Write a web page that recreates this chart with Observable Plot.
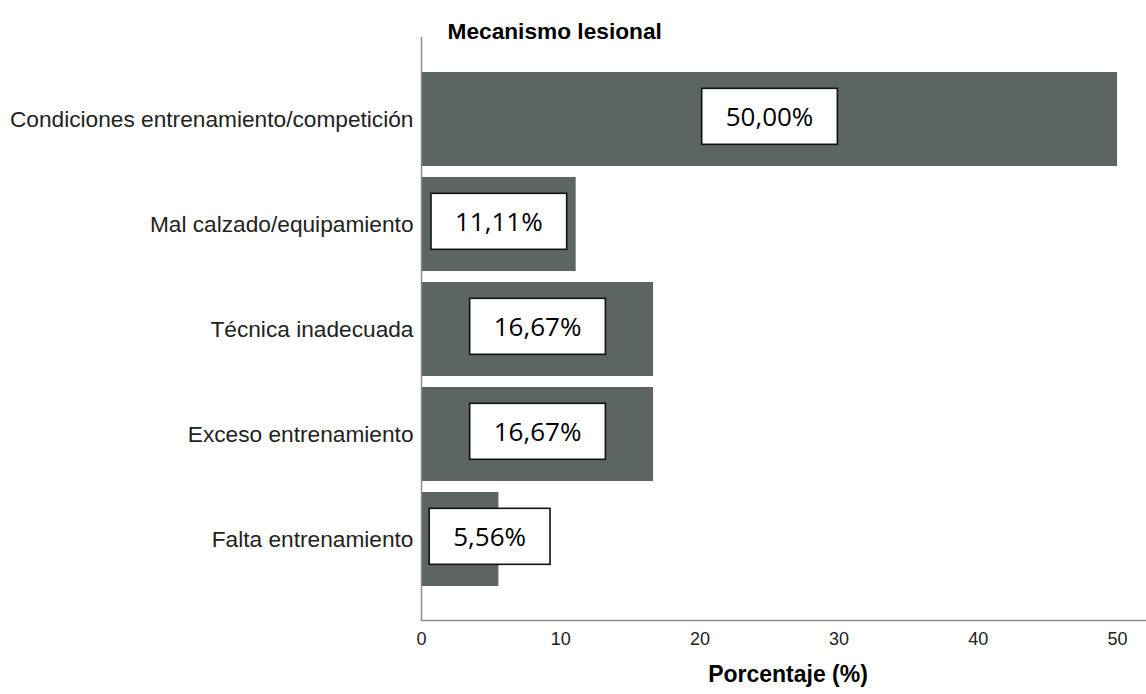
<!DOCTYPE html>
<html>
<head>
<meta charset="utf-8">
<script src="https://cdn.jsdelivr.net/npm/d3@7"></script>
<script src="https://cdn.jsdelivr.net/npm/@observablehq/plot@0.6"></script>
<style>
  html, body { margin: 0; padding: 0; background: #fff; }
  #chart { width: 1146px; height: 694px; }
</style>
</head>
<body>
<div id="chart"></div>
<script>
// Injury mechanism: share of cases per category (%)
const categories = [
  "Condiciones entrenamiento/competición",
  "Mal calzado/equipamiento",
  "Técnica inadecuada",
  "Exceso entrenamiento",
  "Falta entrenamiento"
];
const percentages = [50.00, 11.11, 16.67, 16.67, 5.56];
const xTicks = [0, 10, 20, 30, 40, 50];
const chartTitle = "Mecanismo lesional";
const xTitle = "Porcentaje (%)";

const data = categories.map((c, i) => ({category: c, value: percentages[i]}));
const fmt = v => v.toFixed(2).replace(".", ",") + "%";

const axisColor = "#8c8c8c";

const chart = Plot.plot({
  width: 1146,
  height: 694,
  marginLeft: 421,
  marginRight: 0,
  marginTop: 37,
  marginBottom: 74,
  style: {fontFamily: "'Liberation Sans', Arial, sans-serif", background: "#fff", color: "#222"},
  x: {domain: [0, 52.08], label: null},
  y: {domain: categories, paddingInner: 0.107, paddingOuter: 0.323, label: null},
  marks: [
    Plot.barX(data, {x: "value", y: "category", fill: "#5c6560"}),
    Plot.ruleX([0], {stroke: axisColor, strokeWidth: 1.5}),
    Plot.frame({anchor: "bottom", stroke: axisColor, strokeWidth: 1.5}),
    Plot.axisY({tickSize: 0, tickPadding: 8, fontSize: 22.7, label: null}),
    Plot.axisX({
      ticks: xTicks, tickSize: 0, tickPadding: 12, fontSize: 18,
      fontFamily: "'Liberation Sans Narrow', 'Arial Narrow', 'Liberation Sans', sans-serif",
      label: null
    }),
    Plot.text([chartTitle], {
      frameAnchor: "top-left", dx: 26, dy: -15, textAnchor: "start",
      fontSize: 22.7, fontWeight: "bold", fill: "#000"
    }),
    Plot.text([xTitle], {
      frameAnchor: "bottom", dx: 4, dy: 61, fontSize: 23, fontWeight: "bold", fill: "#000"
    }),
    Plot.text(data, {
      x: d => d.value / 2, y: "category", text: d => fmt(d.value),
      fontSize: 26, fontFamily: "'Open Sans', 'Noto Sans', sans-serif", fill: "#000"
    })
  ]
});

document.getElementById("chart").appendChild(chart);

// White boxed value labels, kept inside the plot's left edge
const labelTexts = new Set(data.map(d => fmt(d.value)));
const x0 = chart.scale("x").apply(0);
const padX = 24, boxH = 56, minLeft = x0 + 9, lift = 1.5;
const ns = "http://www.w3.org/2000/svg";
const svgLeft = chart.getBoundingClientRect().left;
Array.from(chart.querySelectorAll("text"))
  .filter(t => labelTexts.has(t.textContent.trim()))
  .forEach(t => {
    // wrapper takes over the text's own position so box and text share coordinates
    const outer = document.createElementNS(ns, "g");
    const inner = document.createElementNS(ns, "g");
    t.parentNode.insertBefore(outer, t);
    outer.appendChild(inner);
    const tr = t.getAttribute("transform");
    if (tr) { inner.setAttribute("transform", tr); t.removeAttribute("transform"); }
    const bb = t.getBBox();
    const rect = document.createElementNS(ns, "rect");
    rect.setAttribute("x", bb.x - padX);
    rect.setAttribute("y", bb.y + bb.height / 2 - boxH / 2);
    rect.setAttribute("width", bb.width + 2 * padX);
    rect.setAttribute("height", boxH);
    rect.setAttribute("fill", "#fff");
    rect.setAttribute("stroke", "#111");
    rect.setAttribute("stroke-width", 1.6);
    inner.appendChild(rect);
    inner.appendChild(t);
    const left = rect.getBoundingClientRect().left - svgLeft + 0.8;
    const shift = Math.max(0, minLeft - left);
    outer.setAttribute("transform", `translate(${shift},${-lift})`);
  });
</script>
</body>
</html>
